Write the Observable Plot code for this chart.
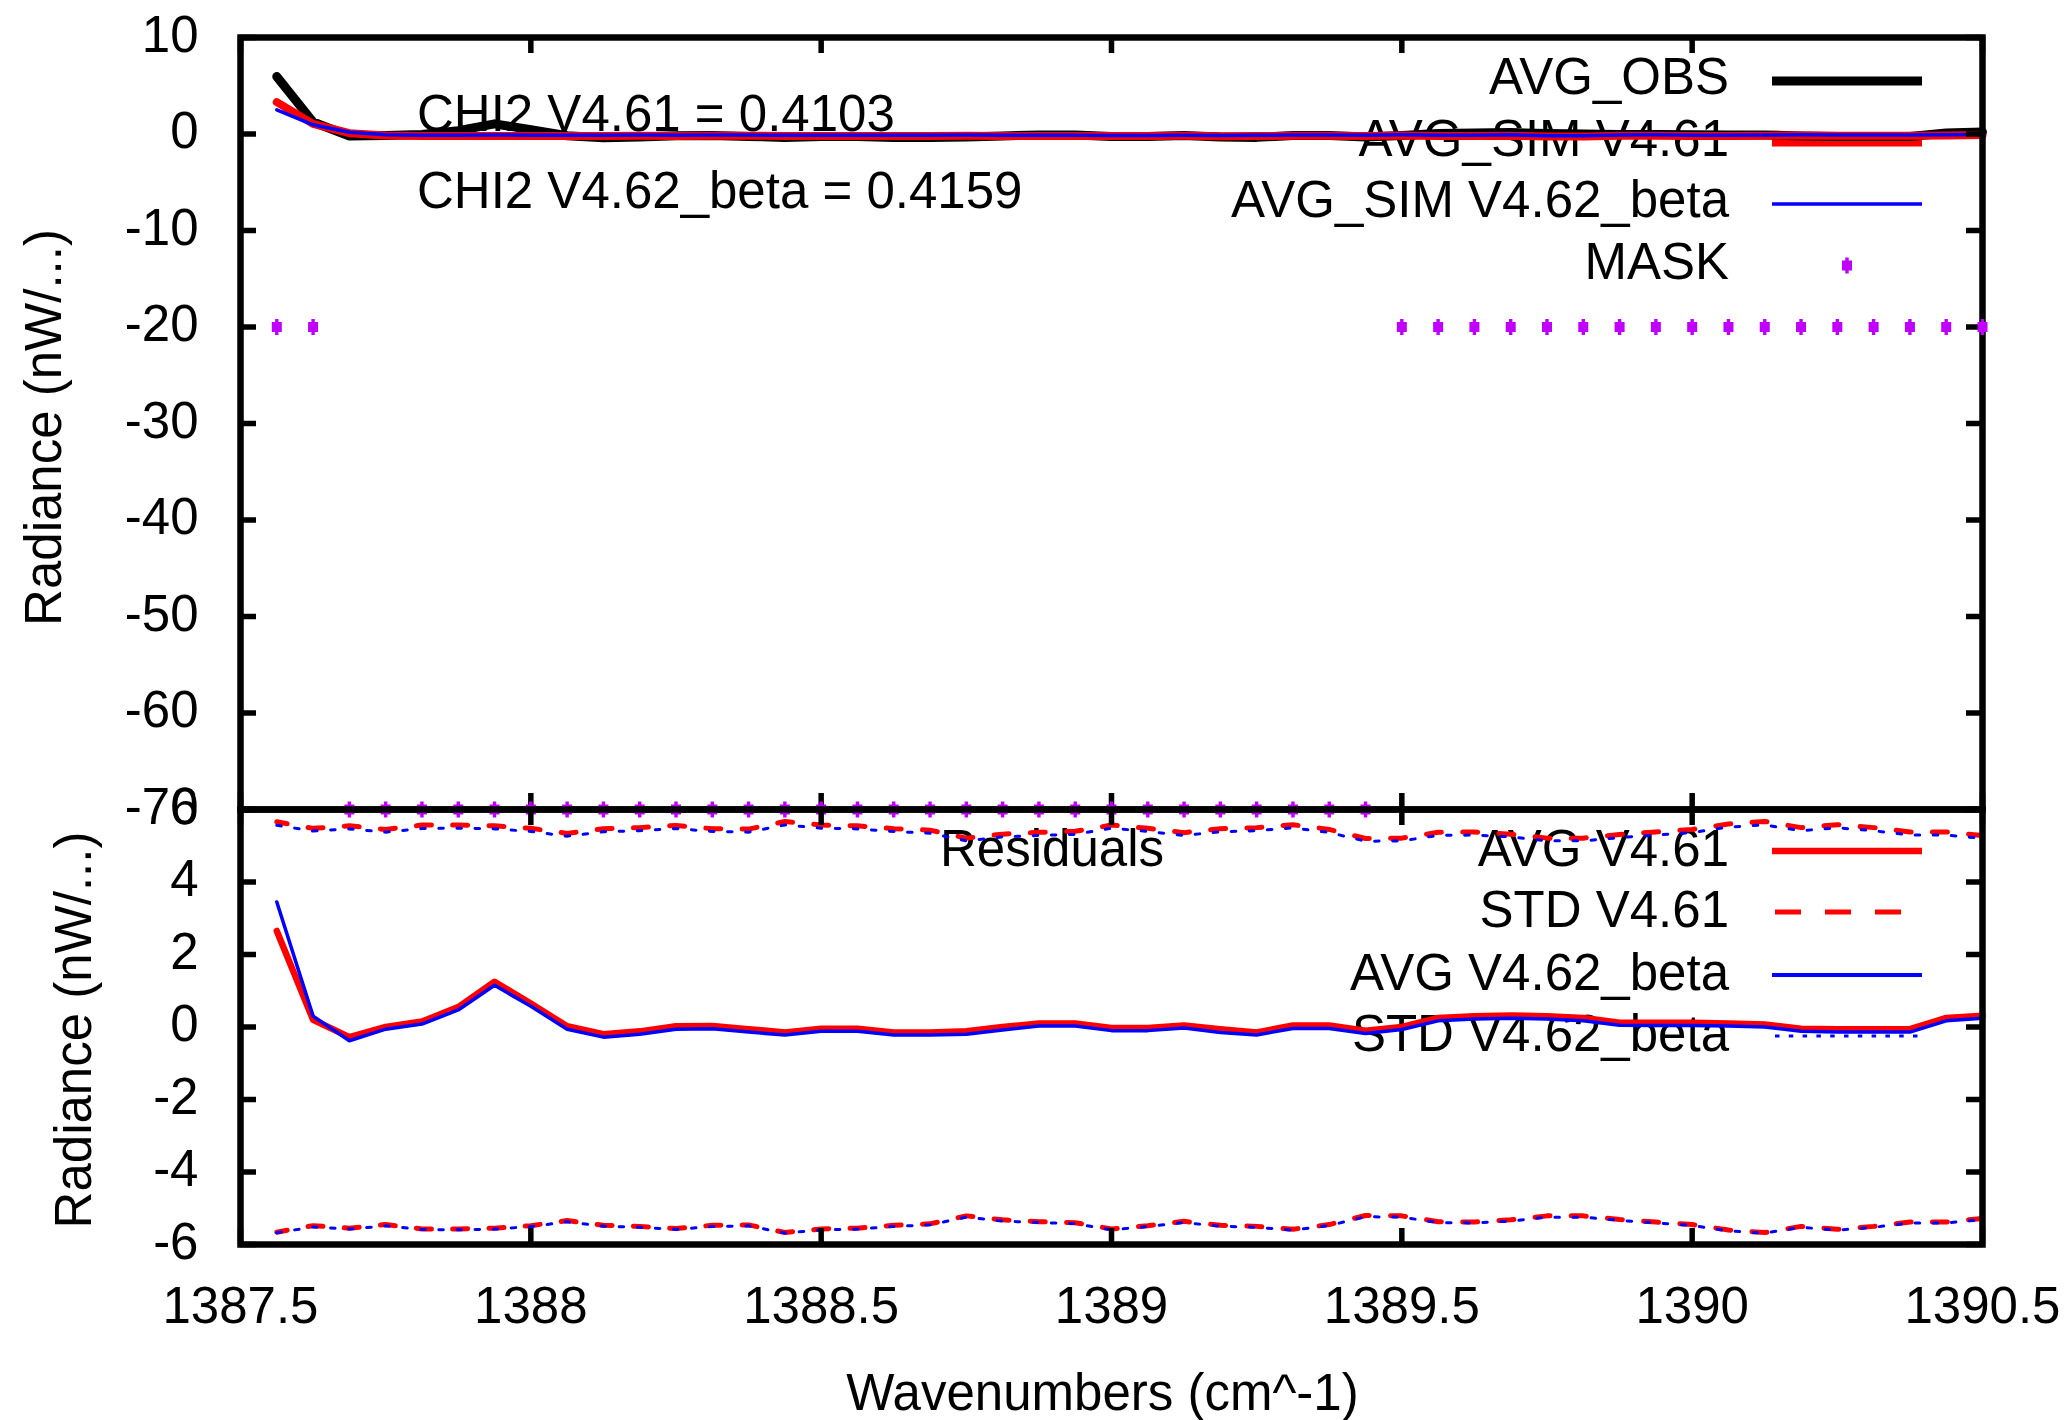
<!DOCTYPE html>
<html><head><meta charset="utf-8">
<script src="https://cdn.jsdelivr.net/npm/d3@7"></script>
<script src="https://cdn.jsdelivr.net/npm/@observablehq/plot@0.6"></script>
<style>
html,body{margin:0;padding:0;background:#fff;}
#chart{position:relative;width:2067px;height:1420px;overflow:hidden;background:#fff;}
#chart svg{position:absolute;left:0;top:0;overflow:visible;}
</style></head><body><div id="chart"></div>
<script>
// ---------- data ----------
const wavenumbers = [1387.5625, 1387.625, 1387.6875, 1387.75, 1387.8125, 1387.875, 1387.9375,
  1388.0, 1388.0625, 1388.125, 1388.1875, 1388.25, 1388.3125, 1388.375, 1388.4375,
  1388.5, 1388.5625, 1388.625, 1388.6875, 1388.75, 1388.8125, 1388.875, 1388.9375,
  1389.0, 1389.0625, 1389.125, 1389.1875, 1389.25, 1389.3125, 1389.375, 1389.4375,
  1389.5, 1389.5625, 1389.625, 1389.6875, 1389.75, 1389.8125, 1389.875, 1389.9375,
  1390.0, 1390.0625, 1390.125, 1390.1875, 1390.25, 1390.3125, 1390.375, 1390.4375, 1390.5];
const avgObs = [5.95, 1.25, -0.2, -0.15, -0.05, 0.35, 1.05, 0.45, -0.18, -0.4,
  -0.3, -0.18, -0.15, -0.25, -0.35, -0.25, -0.25, -0.35, -0.35, -0.3,
  -0.2, -0.1, -0.1, -0.25, -0.25, -0.15, -0.3, -0.35, -0.15, -0.15,
  -0.3, -0.15, 0.05, 0.1, 0.15, 0.05, 0.0, -0.05, -0.05, -0.08,
  -0.1, -0.1, -0.2, -0.25, -0.25, -0.25, 0.1, 0.2];
const avgSim461 = [3.3, 1.05, 0.08, -0.15, -0.2, -0.2, -0.2, -0.2, -0.2, -0.2,
  -0.18, -0.2, -0.18, -0.19, -0.2, -0.2, -0.2, -0.2, -0.2, -0.18,
  -0.2, -0.2, -0.2, -0.22, -0.22, -0.19, -0.24, -0.2, -0.19, -0.19,
  -0.2, -0.15, -0.2, -0.2, -0.17, -0.25, -0.25, -0.17, -0.17, -0.2,
  -0.2, -0.17, -0.15, -0.19, -0.19, -0.19, -0.15, -0.11];
const avgSim462 = [2.5, 0.95, 0.18, -0.09, -0.13, -0.12, -0.1, -0.12, -0.12, -0.12,
  -0.1, -0.12, -0.1, -0.11, -0.13, -0.13, -0.13, -0.13, -0.13, -0.1,
  -0.12, -0.13, -0.13, -0.15, -0.15, -0.12, -0.15, -0.13, -0.11, -0.11,
  -0.12, -0.08, -0.12, -0.12, -0.09, -0.17, -0.17, -0.1, -0.09, -0.12,
  -0.13, -0.1, -0.08, -0.11, -0.11, -0.11, -0.07, -0.04];
const mask = [-20, -20,
  -70, -70, -70, -70, -70, -70, -70, -70, -70, -70, -70, -70, -70, -70, -70,
  -70, -70, -70, -70, -70, -70, -70, -70, -70, -70, -70, -70, -70, -70,
  -20, -20, -20, -20, -20, -20, -20, -20, -20, -20, -20, -20, -20, -20, -20, -20, -20];
const resAvg461 = [2.65, 0.2, -0.28, 0.0, 0.15, 0.55, 1.25, 0.65, 0.02, -0.2,
  -0.12, 0.02, 0.03, -0.06, -0.15, -0.05, -0.05, -0.15, -0.15, -0.12,
  0.0, 0.1, 0.1, -0.03, -0.03, 0.04, -0.06, -0.15, 0.04, 0.04,
  -0.1, 0.0, 0.25, 0.3, 0.32, 0.3, 0.25, 0.12, 0.12, 0.12,
  0.1, 0.07, -0.05, -0.06, -0.06, -0.06, 0.25, 0.31];
const resStd461 = [5.66, 5.48, 5.55, 5.45, 5.57, 5.57, 5.55, 5.48, 5.34, 5.47,
  5.5, 5.56, 5.47, 5.46, 5.67, 5.57, 5.55, 5.47, 5.43, 5.21,
  5.32, 5.37, 5.4, 5.57, 5.48, 5.36, 5.47, 5.5, 5.58, 5.45,
  5.2, 5.21, 5.37, 5.38, 5.32, 5.21, 5.21, 5.31, 5.38, 5.45,
  5.6, 5.67, 5.5, 5.58, 5.5, 5.38, 5.38, 5.28];
const resAvg462 = [3.45, 0.3, -0.38, -0.06, 0.08, 0.47, 1.15, 0.57, -0.06, -0.28,
  -0.2, -0.06, -0.05, -0.14, -0.22, -0.12, -0.12, -0.22, -0.22, -0.2,
  -0.08, 0.03, 0.03, -0.1, -0.1, -0.03, -0.15, -0.22, -0.04, -0.04,
  -0.18, -0.07, 0.17, 0.22, 0.24, 0.22, 0.17, 0.05, 0.04, 0.04,
  0.03, 0.0, -0.12, -0.14, -0.14, -0.14, 0.17, 0.24];
const resStd462 = [5.62, 5.46, 5.52, 5.43, 5.53, 5.54, 5.52, 5.45, 5.32, 5.44,
  5.47, 5.53, 5.45, 5.43, 5.63, 5.54, 5.52, 5.45, 5.4, 5.19,
  5.3, 5.34, 5.37, 5.54, 5.45, 5.34, 5.44, 5.47, 5.55, 5.42,
  5.18, 5.19, 5.34, 5.35, 5.3, 5.19, 5.19, 5.28, 5.35, 5.42,
  5.57, 5.63, 5.47, 5.55, 5.47, 5.35, 5.35, 5.26];

const topYTicks = [10, 0, -10, -20, -30, -40, -50, -60, -70];
const botYTicks = [6, 4, 2, 0, -2, -4, -6];
const xTicks = [1387.5, 1388, 1388.5, 1389, 1389.5, 1390, 1390.5];
const xTickLabels = ["1387.5", "1388", "1388.5", "1389", "1389.5", "1390", "1390.5"];
const topLegend = ["AVG_OBS", "AVG_SIM V4.61", "AVG_SIM V4.62_beta", "MASK"];
const botLegend = ["AVG V4.61", "STD V4.61", "AVG V4.62_beta", "STD V4.62_beta"];
const chi2Labels = ["CHI2 V4.61 = 0.4103", "CHI2 V4.62_beta = 0.4159"];
const residualsTitle = "Residuals";
const yTitle = "Radiance (nW/...)";
const xTitle = "Wavenumbers (cm^-1)";

// ---------- layout ----------
const W = 2067, H = 1420, L = 240, R = 1982, T = 37, DIV = 809, B = 1244;
const innerW = R - L, innerTop = DIV - T, innerBot = B - DIV;
const FONT = "Liberation Sans, Arial, Helvetica, sans-serif";
const FS = 51, TICK = 16, TW = 5.5, FW = 6.5;
const PURPLE = "#c000ff", RED = "#ff0000", BLUE = "#0000ff";

const rows = wavenumbers.map((w, i) => ({
  w, obs: avgObs[i], sim461: avgSim461[i], sim462: avgSim462[i], mask: mask[i],
  ra461: resAvg461[i], rs461: resStd461[i], ra462: resAvg462[i], rs462: resStd462[i]
}));

const maskSymbol = {
  draw(ctx) {
    ctx.moveTo(-5, -5); ctx.lineTo(5, -5); ctx.lineTo(5, 5); ctx.lineTo(-5, 5); ctx.closePath();
    ctx.moveTo(-1.7, -8); ctx.lineTo(1.7, -8); ctx.lineTo(1.7, 8); ctx.lineTo(-1.7, 8); ctx.closePath();
  }
};

function addText(g, str, x, y, anchor) {
  g.append("text").attr("x", x).attr("y", y).attr("text-anchor", anchor)
    .attr("font-family", FONT).attr("font-size", FS).attr("fill", "#000").text(str);
}
function addLine(g, x1, x2, y, stroke, width, dash) {
  const l = g.append("line").attr("x1", x1).attr("x2", x2).attr("y1", y).attr("y2", y)
    .attr("stroke", stroke).attr("stroke-width", width);
  if (dash) l.attr("stroke-dasharray", dash);
}

const LX = 1729, SX1 = 1772, SX2 = 1922;
function topDecor() {
  const g = d3.create("svg:g");
  addText(g, chi2Labels[0], 417, 131, "start");
  addText(g, chi2Labels[1], 417, 208, "start");
  const ys = [81, 142.5, 204, 265.5];
  topLegend.forEach((t, i) => addText(g, t, LX, ys[i] + 13, "end"));
  addLine(g, SX1, SX2, ys[0], "#000", 9);
  addLine(g, SX1, SX2, ys[1], RED, 8);
  addLine(g, SX1, SX2, ys[2], BLUE, 3.5);
  const p = d3.path(); maskSymbol.draw(p);
  g.append("path").attr("d", p.toString()).attr("fill", PURPLE)
    .attr("transform", `translate(${(SX1 + SX2) / 2},${ys[3]})`);
  return g.node();
}
function botDecor() {
  const g = d3.create("svg:g");
  addText(g, residualsTitle, 1052, 866, "middle");
  const ys = [851, 912, 975, 1036];
  botLegend.forEach((t, i) => addText(g, t, LX, ys[i] + 14.5, "end"));
  addLine(g, SX1, SX2, ys[0], RED, 6.5);
  addLine(g, SX1 + 3, SX2, ys[1], RED, 5, "26,24");
  addLine(g, SX1, SX2, ys[2], BLUE, 4);
  addLine(g, SX1 + 3, SX2, ys[3], BLUE, 3, "4.5,9.3");
  return g.node();
}

const textOpts = {fontFamily: FONT, fontSize: FS, fill: "#000", lineAnchor: "bottom"};

function frameTicks(yTicks, innerH) {
  return [
    Plot.frame({stroke: "#000", strokeWidth: FW}),
    Plot.tickY(yTicks, {y: d => d, insetRight: innerW - TICK, stroke: "#000", strokeWidth: TW}),
    Plot.tickY(yTicks, {y: d => d, insetLeft: innerW - TICK, stroke: "#000", strokeWidth: TW}),
    Plot.tickX(xTicks, {x: d => d, insetBottom: innerH - TICK, stroke: "#000", strokeWidth: TW}),
    Plot.tickX(xTicks, {x: d => d, insetTop: innerH - TICK, stroke: "#000", strokeWidth: TW}),
    Plot.text(yTicks, {y: d => d, text: d => String(d), frameAnchor: "left", textAnchor: "end", dx: -42, dy: 14, ...textOpts})
  ];
}

const topPlot = Plot.plot({
  width: W, height: H,
  marginLeft: L, marginRight: W - R, marginTop: T, marginBottom: H - DIV,
  style: {background: "transparent", overflow: "visible"},
  x: {domain: [1387.5, 1390.5], axis: null},
  y: {domain: [-70, 10], axis: null},
  marks: [
    topDecor,
    Plot.line(rows, {x: "w", y: "obs", stroke: "#000", strokeWidth: 9}),
    Plot.line(rows, {x: "w", y: "sim461", stroke: RED, strokeWidth: 8}),
    Plot.line(rows, {x: "w", y: "sim462", stroke: BLUE, strokeWidth: 3.5}),
    ...frameTicks(topYTicks, innerTop),
    Plot.dot(rows, {x: "w", y: "mask", symbol: maskSymbol, fill: PURPLE, stroke: "none", r: 5}),
    Plot.text([yTitle], {text: d => d, frameAnchor: "left", rotate: -90, dx: 60 - L, dy: 4, textAnchor: "middle", ...textOpts})
  ]
});

const botPlot = Plot.plot({
  width: W, height: H,
  marginLeft: L, marginRight: W - R, marginTop: DIV, marginBottom: H - B,
  style: {background: "transparent", overflow: "visible"},
  x: {domain: [1387.5, 1390.5], axis: null},
  y: {domain: [-6, 6], axis: null},
  marks: [
    botDecor,
    Plot.line(rows, {x: "w", y: "ra461", stroke: RED, strokeWidth: 6.5}),
    Plot.line(rows, {x: "w", y: "rs461", stroke: RED, strokeWidth: 5, strokeDasharray: "15,21.3", strokeDashoffset: 4.5}),
    Plot.line(rows, {x: "w", y: d => -d.rs461, stroke: RED, strokeWidth: 5, strokeDasharray: "15,21.3", strokeDashoffset: 4.5}),
    Plot.line(rows, {x: "w", y: "ra462", stroke: BLUE, strokeWidth: 3.5}),
    Plot.line(rows, {x: "w", y: "rs462", stroke: BLUE, strokeWidth: 3, dy: 2, strokeDasharray: "4.5,13.6"}),
    Plot.line(rows, {x: "w", y: d => -d.rs462, stroke: BLUE, strokeWidth: 3, dy: 2, strokeDasharray: "4.5,13.6"}),
    ...frameTicks(botYTicks, innerBot),
    Plot.text(xTicks, {x: d => d, text: (d, i) => xTickLabels[i], frameAnchor: "bottom", textAnchor: "middle", dy: 78, ...textOpts}),
    Plot.text([xTitle], {text: d => d, frameAnchor: "bottom", textAnchor: "middle", dx: -9, dy: 1409 - B, ...textOpts}),
    Plot.text([yTitle], {text: d => d, frameAnchor: "left", rotate: -90, dx: 90 - L, dy: 3, textAnchor: "middle", ...textOpts})
  ]
});

const chart = document.getElementById("chart");
chart.appendChild(topPlot);
chart.appendChild(botPlot);
</script>
</body></html>
